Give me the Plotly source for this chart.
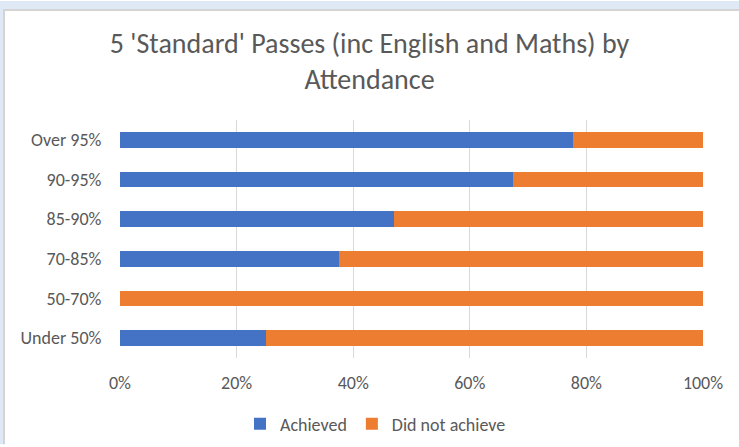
import plotly.graph_objects as go

categories = ["Under 50%", "50-70%", "70-85%", "85-90%", "90-95%", "Over 95%"]
achieved = [25.0, 0.0, 37.5, 47.0, 67.4, 77.7]
not_achieved = [75.0, 100.0, 62.5, 53.0, 32.6, 22.3]
x_ticks = [0, 20, 40, 60, 80, 100]
x_tick_labels = ["0%", "20%", "40%", "60%", "80%", "100%"]

BLUE = "#4472C4"
ORANGE = "#ED7D31"
GREY_TEXT = "#595959"
FONT = "Carlito, Lato, 'Open Sans', sans-serif"

fig = go.Figure()
fig.add_trace(go.Bar(y=categories, x=achieved, orientation="h", name="Achieved",
                     marker=dict(color=BLUE, line=dict(width=0))))
fig.add_trace(go.Bar(y=categories, x=not_achieved, orientation="h", name="Did not achieve",
                     marker=dict(color=ORANGE, line=dict(width=0))))

W, H = 739, 447
L, R, T, B = 120, 36, 120, 87
pw, ph = W - L - R, H - T - B

def px_x(px):
    return (px - L) / pw

def px_y(py):
    return (H - B - py) / ph

shapes = [
    # window frame decoration: light blue top & left strips with grey edge
    dict(type="rect", xref="paper", yref="paper", x0=px_x(0), x1=px_x(W), y0=px_y(0), y1=px_y(8),
         fillcolor="#DEE9F5", line=dict(width=0), layer="above"),
    dict(type="rect", xref="paper", yref="paper", x0=px_x(0), x1=px_x(3), y0=px_y(0), y1=px_y(H),
         fillcolor="#DEE9F5", line=dict(width=0), layer="above"),
    dict(type="rect", xref="paper", yref="paper", x0=px_x(3), x1=px_x(W), y0=px_y(8), y1=px_y(10),
         fillcolor="#D4D4D4", line=dict(width=0), layer="above"),
    dict(type="rect", xref="paper", yref="paper", x0=px_x(3), x1=px_x(5), y0=px_y(8), y1=px_y(H),
         fillcolor="#D4D4D4", line=dict(width=0), layer="above"),
]

fig.update_layout(
    width=W, height=H,
    margin=dict(l=L, r=R, t=T, b=B),
    paper_bgcolor="white", plot_bgcolor="white",
    barmode="stack", bargap=0.6,
    font=dict(family=FONT, color=GREY_TEXT, size=18),
    title=dict(text="5 'Standard' Passes (inc English and Maths) by<br>Attendance",
               x=0.5, xref="container", xanchor="center",
               y=1 - 53 / H, yref="container", yanchor="middle",
               font=dict(family=FONT, size=28, color=GREY_TEXT)),
    xaxis=dict(range=[0, 100], tickvals=x_ticks, ticktext=x_tick_labels,
               showgrid=True, gridcolor="#D9D9D9", gridwidth=1, zeroline=False,
               showline=False, ticks="outside", tickcolor="rgba(0,0,0,0)", ticklen=8,
               tickfont=dict(size=18, color=GREY_TEXT), fixedrange=True),
    yaxis=dict(showgrid=False, zeroline=False, showline=False,
               ticks="outside", tickcolor="rgba(0,0,0,0)", ticklen=14,
               tickfont=dict(size=18, color=GREY_TEXT), fixedrange=True),
    legend=dict(orientation="h", x=0.5 + 6 / W, xref="container", xanchor="center",
                y=1 - 424 / H, yref="container", yanchor="middle",
                font=dict(size=18, color=GREY_TEXT), traceorder="normal",
                itemwidth=30, itemsizing="constant"),
    shapes=shapes,
    showlegend=True,
)

fig.write_html("out.html", config={"displayModeBar": False},
               post_script="document.body.style.margin='0';document.body.style.overflow='hidden';")
